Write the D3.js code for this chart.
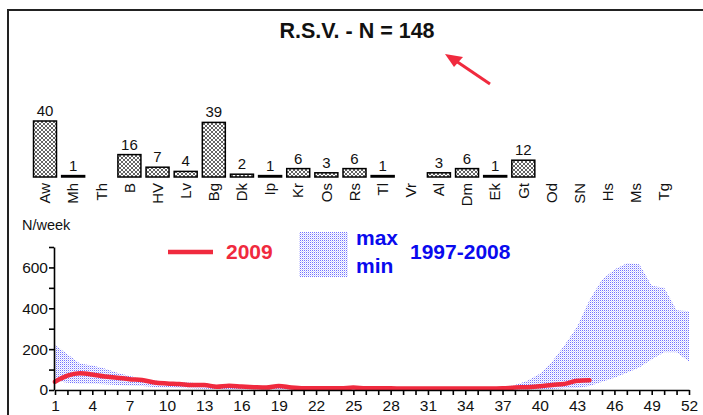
<!DOCTYPE html>
<html>
<head>
<meta charset="utf-8">
<script src="https://cdn.jsdelivr.net/npm/d3@7"></script>
<style>
  body { margin: 0; background: #fff; }
  svg { font-family: "Liberation Sans", Arial, sans-serif; }
</style>
</head>
<body>
<div id="svg_area"></div>
<script>
// hospital codes for the top bar strip
var regions = ["Aw","Mh","Th","B","HV","Lv","Bg","Dk","Ip","Kr","Os","Rs","Tl","Vr","Al","Dm","Ek","Gt","Od","SN","Hs","Ms","Tg"];
var regionCounts = [40,1,0,16,7,4,39,2,1,6,3,6,1,0,3,6,1,12,0,0,0,0,0];

// weekly curves
var weeks = d3.range(1, 53);
var weekLabels = [1,4,7,10,13,16,19,22,25,28,31,34,37,40,43,46,49,52];
var max9708 = [220,175,130,120,105,85,68,56,46,40,38,35,30,25,22,22,25,18,15,12,
               10,10,10,10,10,10,10,10,10,10,10,10,10,10,10,12,15,25,45,80,
               140,220,310,440,540,590,620,615,510,500,390,385];
var min9708 = [45,35,30,30,28,25,22,20,15,12,10,8,6,5,3,2,2,2,2,1,
               0,0,0,0,0,0,0,0,0,0,0,0,0,0,0,0,0,0,0,2,
               5,8,10,20,40,60,85,110,150,185,185,140];
var weeks2009 = d3.range(1, 45);
var cases2009 = [40,70,82,76,66,60,53,49,37,32,29,24,24,16,21,17,14,12,20,12,
                 8,8,8,8,12,8,8,8,7,7,7,7,7,7,7,7,8,12,14,18,25,30,45,48];

var red = "#f02a3e";
var blue = "#0a0aee";

var svg = d3.select("#svg_area").append("svg")
  .attr("width", 703)
  .attr("height", 415);

var defs = svg.append("defs");

// cross hatch for the bars
var hatch = defs.append("pattern")
  .attr("id", "hatch")
  .attr("patternUnits", "userSpaceOnUse")
  .attr("width", 4)
  .attr("height", 4);
hatch.append("rect").attr("width", 4).attr("height", 4).attr("fill", "#fff");
hatch.append("path")
  .attr("d", "M0,0L4,4M4,0L0,4")
  .attr("stroke", "#222")
  .attr("stroke-width", 0.7);

// blue dots for the range band
var dots = defs.append("pattern")
  .attr("id", "dots")
  .attr("patternUnits", "userSpaceOnUse")
  .attr("width", 2)
  .attr("height", 2);
dots.append("rect").attr("width", 2).attr("height", 2).attr("fill", "#fff");
dots.append("rect").attr("width", 1).attr("height", 1).attr("fill", "#7272ff");
dots.append("rect").attr("x", 1).attr("y", 1).attr("width", 1).attr("height", 1).attr("fill", "#d4d4ff");

// frame
svg.append("path")
  .attr("d", "M8,415V10H703")
  .attr("fill", "none")
  .attr("stroke", "#222")
  .attr("stroke-width", 2);

// title + arrow
svg.append("text")
  .attr("x", 357)
  .attr("y", 38)
  .attr("text-anchor", "middle")
  .attr("font-size", "21.5px")
  .attr("font-weight", "bold")
  .attr("fill", "#111")
  .text("R.S.V. - N = 148");

svg.append("line")
  .attr("x1", 490).attr("y1", 84)
  .attr("x2", 456).attr("y2", 61)
  .attr("stroke", red)
  .attr("stroke-width", 3);
svg.append("path")
  .attr("d", "M445,54L463,57L454,67Z")
  .attr("fill", red);

// ---- bar strip ----
var xBand = d3.scalePoint().domain(regions).range([45, 664]);
var yBar = d3.scaleLinear().domain([0, 40]).range([177, 121]);
var barW = 23;

var bars = svg.append("g");
regions.forEach(function(r, i) {
  var v = regionCounts[i];
  if (v > 0) {
    bars.append("rect")
      .attr("x", xBand(r) - barW / 2)
      .attr("y", yBar(v))
      .attr("width", barW)
      .attr("height", yBar(0) - yBar(v))
      .attr("fill", v < 2 ? "#000" : "url(#hatch)")
      .attr("stroke", "#000")
      .attr("stroke-width", 1.5);
    bars.append("text")
      .attr("x", xBand(r))
      .attr("y", yBar(v) - 5)
      .attr("text-anchor", "middle")
      .attr("font-size", "15px")
      .attr("fill", "#111")
      .text(v);
  }
  bars.append("text")
    .attr("transform", "translate(" + xBand(r) + ",183) rotate(-90)")
    .attr("text-anchor", "end")
    .attr("dy", "0.35em")
    .attr("font-size", "15px")
    .attr("fill", "#111")
    .text(r);
});

// ---- weekly chart ----
var x = d3.scaleLinear().domain([1, 52]).range([55, 689]);
var y = d3.scaleLinear().domain([0, 700]).range([390, 247]);

var band = d3.area()
  .x(function(d, i) { return x(weeks[i]); })
  .y0(function(d, i) { return y(min9708[i]); })
  .y1(function(d, i) { return y(max9708[i]); });

svg.append("path")
  .datum(weeks)
  .attr("fill", "url(#dots)")
  .attr("d", band);

var line2009 = d3.line()
  .curve(d3.curveMonotoneX)
  .x(function(d, i) { return x(weeks2009[i]); })
  .y(function(d) { return y(d); });

svg.append("path")
  .datum(cases2009)
  .attr("fill", "none")
  .attr("stroke", red)
  .attr("stroke-width", 4.5)
  .attr("stroke-linejoin", "round")
  .attr("stroke-linecap", "round")
  .attr("d", line2009);

var yAxis = svg.append("g")
  .attr("transform", "translate(54,0)")
  .call(d3.axisLeft(y)
    .tickValues(d3.range(0, 701, 100))
    .tickSize(5)
    .tickSizeOuter(0)
    .tickPadding(1)
    .tickFormat(function(d) { return d % 200 === 0 ? d : ""; }));

var xAxis = svg.append("g")
  .attr("transform", "translate(0,390)")
  .call(d3.axisBottom(x)
    .tickValues(weeks)
    .tickSize(5)
    .tickSizeOuter(0)
    .tickPadding(5)
    .tickFormat(function(d) { return weekLabels.indexOf(d) >= 0 ? d : ""; }));

[yAxis, xAxis].forEach(function(a) {
  a.selectAll("text")
    .attr("font-family", "Liberation Sans, Arial, sans-serif")
    .attr("font-size", "15.5px")
    .attr("fill", "#111");
  a.selectAll("path, line")
    .attr("stroke", "#000")
    .attr("stroke-width", 1.6);
});

svg.append("text")
  .attr("x", 22)
  .attr("y", 230)
  .attr("font-size", "14.5px")
  .attr("fill", "#111")
  .text("N/week");

// legend
svg.append("line")
  .attr("x1", 168).attr("y1", 252)
  .attr("x2", 213).attr("y2", 252)
  .attr("stroke", red)
  .attr("stroke-width", 4.5);
svg.append("text")
  .attr("x", 226).attr("y", 259)
  .attr("font-size", "21px")
  .attr("font-weight", "bold")
  .attr("fill", red)
  .text("2009");

svg.append("rect")
  .attr("x", 299).attr("y", 232)
  .attr("width", 49).attr("height", 45)
  .attr("fill", "url(#dots)");

var legendBlue = [["max", 356, 245], ["min", 356, 273], ["1997-2008", 410, 259]];
legendBlue.forEach(function(t) {
  svg.append("text")
    .attr("x", t[1]).attr("y", t[2])
    .attr("font-size", "21px")
    .attr("font-weight", "bold")
    .attr("fill", blue)
    .text(t[0]);
});
</script>
</body>
</html>
